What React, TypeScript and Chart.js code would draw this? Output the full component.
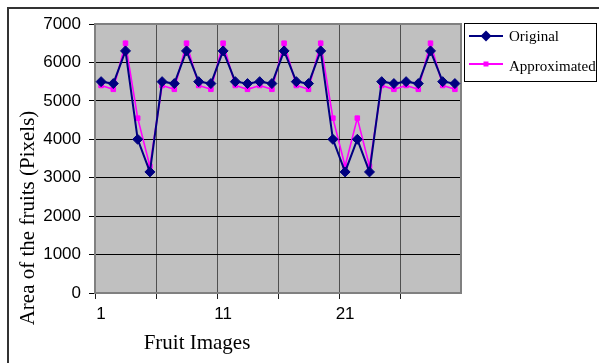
import React, { useEffect, useRef } from "react";
import { Chart, registerables } from "chart.js";

Chart.register(...registerables);

// ---- data ----
const imageNumbers = [
  "1", "2", "3", "4", "5", "6", "7", "8", "9", "10",
  "11", "12", "13", "14", "15", "16", "17", "18", "19", "20",
  "21", "22", "23", "24", "25", "26", "27", "28", "29", "30",
];
const originalArea = [
  5500, 5450, 6300, 4000, 3150, 5500, 5450, 6300, 5500, 5450,
  6300, 5500, 5450, 5500, 5450, 6300, 5500, 5450, 6300, 4000,
  3150, 4000, 3150, 5500, 5450, 5500, 5450, 6300, 5500, 5450,
];
const approximatedArea = [
  5400, 5300, 6500, 4550, 3300, 5400, 5300, 6500, 5400, 5300,
  6500, 5400, 5300, 5400, 5300, 6500, 5400, 5300, 6500, 4550,
  3300, 4550, 3300, 5400, 5300, 5400, 5300, 6500, 5400, 5300,
];
const shownXLabels = ["1", "11", "21"];
const seriesNames = ["Original", "Approximated"];
const xTitle = "Fruit Images";
const yTitle = "Area of the fruits (Pixels)";

const NAVY = "#000080";
const PINK = "#ff00ff";

const decorPlugin = {
  id: "decor",
  beforeDraw(chart: any) {
    const { ctx, chartArea } = chart;
    ctx.save();
    ctx.fillStyle = "#c0c0c0";
    ctx.fillRect(chartArea.left, chartArea.top, chartArea.right - chartArea.left, chartArea.bottom - chartArea.top);
    ctx.restore();
  },
  beforeDatasetsDraw(chart: any) {
    const { ctx, chartArea } = chart;
    ctx.save();
    ctx.strokeStyle = "#808080";
    ctx.lineWidth = 2;
    ctx.strokeRect(chartArea.left, chartArea.top, chartArea.right - chartArea.left, chartArea.bottom - chartArea.top);
    ctx.restore();
  },
  afterDraw(chart: any) {
    const { ctx } = chart;
    ctx.save();
    // outer chart frame (top and left edges visible)
    ctx.strokeStyle = "#333";
    ctx.lineWidth = 2;
    ctx.beginPath();
    ctx.moveTo(8, 363);
    ctx.lineTo(8, 8);
    ctx.lineTo(599, 8);
    ctx.stroke();

    // axis titles
    ctx.fillStyle = "#000";
    ctx.font = '21px "Liberation Serif"';
    ctx.textAlign = "center";
    ctx.textBaseline = "alphabetic";
    ctx.fillText(xTitle, 197, 349);
    ctx.save();
    ctx.translate(34, 218);
    ctx.rotate(-Math.PI / 2);
    ctx.fillText(yTitle, 0, 0);
    ctx.restore();

    // legend
    ctx.fillStyle = "#fff";
    ctx.fillRect(464.5, 23.5, 132, 58);
    ctx.strokeStyle = "#000";
    ctx.lineWidth = 1;
    ctx.strokeRect(464.5, 23.5, 132, 58);

    const entries = [
      { name: chart.data.datasets[0].label, color: NAVY, y: 36, base: 40.5, marker: "diamond" },
      { name: chart.data.datasets[1].label, color: PINK, y: 64, base: 70.5, marker: "square" },
    ];
    entries.forEach((e) => {
      ctx.strokeStyle = e.color;
      ctx.lineWidth = 2;
      ctx.beginPath();
      ctx.moveTo(469, e.y);
      ctx.lineTo(503, e.y);
      ctx.stroke();
      ctx.fillStyle = e.color;
      ctx.beginPath();
      if (e.marker === "diamond") {
        const r = 5.5;
        ctx.moveTo(486, e.y - r);
        ctx.lineTo(486 + r, e.y);
        ctx.lineTo(486, e.y + r);
        ctx.lineTo(486 - r, e.y);
        ctx.closePath();
      } else {
        ctx.rect(483.5, e.y - 2.5, 5, 5);
      }
      ctx.fill();
      ctx.fillStyle = "#000";
      ctx.font = '15px "Liberation Serif"';
      ctx.textAlign = "left";
      ctx.fillText(e.name, 509, e.base);
    });
    ctx.restore();
  },
};

export default function App() {
  const canvasRef = useRef<HTMLCanvasElement | null>(null);

  useEffect(() => {
    const canvas = canvasRef.current;
    if (!canvas) return;
    const chart = new Chart(canvas, {
      type: "line",
      data: {
        labels: imageNumbers,
        datasets: [
          {
            label: seriesNames[0],
            data: originalArea,
            borderColor: NAVY,
            backgroundColor: NAVY,
            borderWidth: 2,
            pointStyle: "rectRot",
            pointRadius: 5,
            pointBorderWidth: 1,
            pointBackgroundColor: NAVY,
            pointBorderColor: NAVY,
            tension: 0,
          },
          {
            label: seriesNames[1],
            data: approximatedArea,
            borderColor: PINK,
            backgroundColor: PINK,
            borderWidth: 1.6,
            pointStyle: "rect",
            pointRadius: 3.2,
            pointBorderWidth: 1,
            pointBackgroundColor: PINK,
            pointBorderColor: PINK,
            tension: 0,
          },
        ],
      },
      options: {
        responsive: false,
        animation: false,
        events: [],
        layout: { padding: { top: 24, right: 138, left: 0, bottom: 0 } },
        plugins: {
          legend: { display: false },
          tooltip: { enabled: false },
          title: { display: false },
        },
        scales: {
          x: {
            type: "category",
            offset: true,
            afterFit: (scale: any) => {
              scale.height = 70;
            },
            grid: {
              offset: true,
              drawOnChartArea: true,
              color: (c: any) => (c.index % 5 === 0 ? "#505050" : "rgba(0,0,0,0)"),
              tickColor: (c: any) => (c.index % 5 === 0 ? "#202020" : "rgba(0,0,0,0)"),
              tickLength: 6,
              lineWidth: 1,
            },
            border: { display: true, color: "#404040", width: 2 },
            ticks: {
              autoSkip: false,
              maxRotation: 0,
              minRotation: 0,
              padding: 5,
              color: "#000",
              font: { family: "Liberation Sans", size: 17 },
              callback: (_v: any, i: number) =>
                shownXLabels.includes(imageNumbers[i]) ? imageNumbers[i] : "",
            },
          },
          y: {
            type: "linear",
            min: 0,
            max: 7000,
            afterFit: (scale: any) => {
              scale.width = 95;
            },
            grid: { color: "#000", lineWidth: 1, tickLength: 6, tickColor: "#000" },
            border: { display: true, color: "#808080", width: 2 },
            ticks: {
              stepSize: 1000,
              padding: 8,
              color: "#000",
              font: { family: "Liberation Sans", size: 17 },
              callback: (v: any) => String(v),
            },
          },
        },
      },
      plugins: [decorPlugin],
    });
    return () => chart.destroy();
  }, []);

  return (
    <div style={{ position: "absolute", left: 0, top: 0, width: 599, height: 363, background: "#fff" }}>
      <canvas ref={canvasRef} width={599} height={363} style={{ display: "block" }} />
    </div>
  );
}
